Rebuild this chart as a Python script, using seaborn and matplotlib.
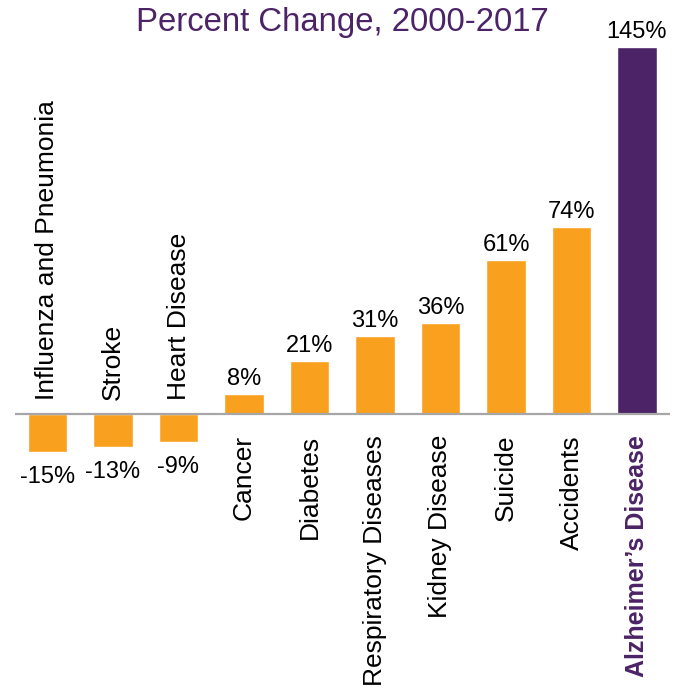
import matplotlib
matplotlib.use("Agg")
import matplotlib.pyplot as plt
import seaborn as sns

categories = ["Influenza and Pneumonia", "Stroke", "Heart Disease", "Cancer",
              "Diabetes", "Respiratory Diseases", "Kidney Disease", "Suicide",
              "Accidents", "Alzheimer’s Disease"]
bar_values = [-15, -13, -11, 8, 21, 31, 36, 61, 74, 145]
value_labels = ["-15%", "-13%", "-9%", "8%", "21%", "31%", "36%", "61%", "74%", "145%"]
title = "Percent Change, 2000-2017"

ORANGE = "#F9A11F"
PURPLE = "#4B2366"
colors = [ORANGE] * 9 + [PURPLE]

sns.set_theme(style="white")
plt.rcParams["font.family"] = ["Liberation Sans", "DejaVu Sans"]

W, H = 680, 687
fig = plt.figure(figsize=(W / 100, H / 100), dpi=100)
ax = fig.add_axes([14.75 / W, 0, 655 / W, 1])

sns.barplot(x=categories, y=bar_values, hue=categories, palette=colors,
            width=0.6, saturation=1, legend=False, ax=ax)

ax.set_xlim(-0.5, 9.5)
ax.set_ylim(-107.9, 163.6)
ax.axis("off")
ax.axhline(0, color="#A6A6A6", lw=1.6, zorder=3)

for patch, cat, v, lab in zip(ax.patches, categories, bar_values, value_labels):
    xc = patch.get_x() + patch.get_width() / 2
    is_alz = cat.startswith("Alzheimer")
    kw = dict(fontsize=19, rotation=90, ha="center", textcoords="offset pixels")
    if is_alz:
        kw.update(fontweight="bold", color=PURPLE, fontsize=18)
    else:
        kw.update(color="black")
    if v < 0:
        ax.annotate(cat, (xc, 0), xytext=(0, 14), va="bottom", **kw)
        ax.annotate(lab, (xc, v), xytext=(0, -14), textcoords="offset pixels",
                    ha="center", va="top", fontsize=17, color="black")
    else:
        ax.annotate(cat, (xc, 0), xytext=(0, -21), va="top", **kw)
        ax.annotate(lab, (xc, v), xytext=(0, 4), textcoords="offset pixels",
                    ha="center", va="bottom", fontsize=17, color="black")

fig.text(0.503, 1 - 31 / H, title, ha="center", va="baseline",
         fontsize=23.7, color=PURPLE)

fig.savefig("out.png", dpi=100)
